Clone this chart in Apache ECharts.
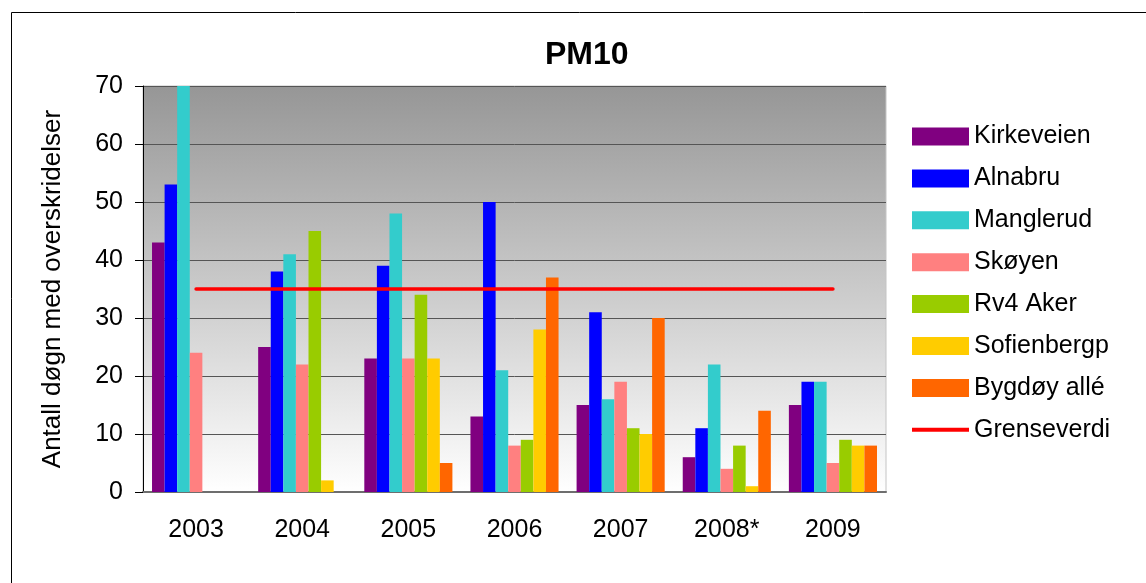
<!DOCTYPE html>
<html>
<head>
<meta charset="utf-8">
<script src="https://cdn.jsdelivr.net/npm/echarts@6/dist/echarts.min.js"></script>
<style>
html,body{margin:0;padding:0;background:#fff;}
#chart{width:1146px;height:583px;}
</style>
</head>
<body>
<div id="chart"></div>
<script>
var categories = ['2003','2004','2005','2006','2007','2008*','2009'];
var kirkeveien = [43, 25, 23, 13, 15, 6, 15];
var alnabru    = [53, 38, 39, 50, 31, 11, 19];
var manglerud  = [70, 41, 48, 21, 16, 22, 19];
var skoyen     = [24, 22, 23, 8, 19, 4, 5];
var rv4Aker    = [null, 45, 34, 9, 11, 8, 9];
var sofienbergp= [null, 2, 23, 28, 10, 1, 8];
var bygdoyAlle = [null, null, 5, 37, 30, 14, 8];
var grenseverdi= [35, 35, 35, 35, 35, 35, 35];
var yTicks = [0, 10, 20, 30, 40, 50, 60, 70];

var FONT = '"Liberation Sans", Arial, sans-serif';
var barNames = ['Kirkeveien','Alnabru','Manglerud','Skøyen','Rv4 Aker','Sofienbergp','Bygdøy allé'];
var barData = [kirkeveien, alnabru, manglerud, skoyen, rv4Aker, sofienbergp, bygdoyAlle];
var barColors = ['#800080','#0000ff','#33cccc','#ff8080','#99cc00','#ffcc00','#ff6600'];

var series = barNames.map(function(n, i){
  return {
    name: n, type: 'bar', data: barData[i].map(function(v){ return v === null ? '-' : v; }),
    barGap: '0%', barCategoryGap: '17%',
    itemStyle: {color: barColors[i]}
  };
});
series.push({
  name: 'Grenseverdi', type: 'line', data: grenseverdi,
  symbol: 'none', z: 5,
  lineStyle: {color: '#ff0000', width: 3.5, cap: 'round'},
  itemStyle: {color: '#ff0000'}
});

var chart = echarts.init(document.getElementById('chart'));
chart.setOption({
  animation: false,
  textStyle: {fontFamily: FONT},
  title: {
    text: 'PM10', left: 540, top: 34,
    textStyle: {fontFamily: FONT, fontSize: 32, fontWeight: 'bold', color: '#000'}
  },
  graphic: [{
    type: 'rect', silent: true, z: -1,
    shape: {x: 11.5, y: 12.5, width: 1300, height: 700},
    style: {fill: 'none', stroke: '#000', lineWidth: 1}
  }],
  legend: {
    orient: 'vertical', left: 907, top: 119, itemWidth: 57, itemHeight: 18, itemGap: 16.9,
    textStyle: {fontFamily: FONT, fontSize: 25, color: '#000', lineHeight: 25},
    data: barNames.map(function(n){ return {name: n, icon: 'rect'}; }).concat([
      {name: 'Grenseverdi', icon: 'path://M0,0M0,7L57,7L57,11L0,11ZM57,18',
       itemStyle: {color: '#ff0000'}}
    ])
  },
  grid: {
    left: 143, right: 260, top: 86, bottom: 91,
    show: true, borderColor: '#c4c4c4', borderWidth: 1,
    backgroundColor: new echarts.graphic.LinearGradient(0, 0, 0, 1, [
      {offset: 0, color: '#969696'}, {offset: 1, color: '#ffffff'}
    ])
  },
  xAxis: {
    type: 'category', data: categories,
    axisLine: {lineStyle: {color: '#6e6e6e', width: 2}},
    axisTick: {show: false},
    axisLabel: {fontFamily: FONT, fontSize: 25, color: '#000', margin: 26}
  },
  yAxis: {
    type: 'value', min: 0, max: 70, interval: 10,
    name: 'Antall døgn med overskridelser', nameLocation: 'middle', nameGap: 77, nameRotate: 90,
    nameTextStyle: {fontFamily: FONT, fontSize: 26, color: '#000'},
    axisLine: {show: true, lineStyle: {color: '#000', width: 1}},
    axisTick: {show: true, length: 8, lineStyle: {color: '#000'}},
    axisLabel: {fontFamily: FONT, fontSize: 25, color: '#000', margin: 20,
      formatter: function(v){ return yTicks.indexOf(v) >= 0 ? String(v) : ''; }},
    splitLine: {lineStyle: {color: '#555', width: 1}}
  },
  series: series
});
</script>
</body>
</html>
